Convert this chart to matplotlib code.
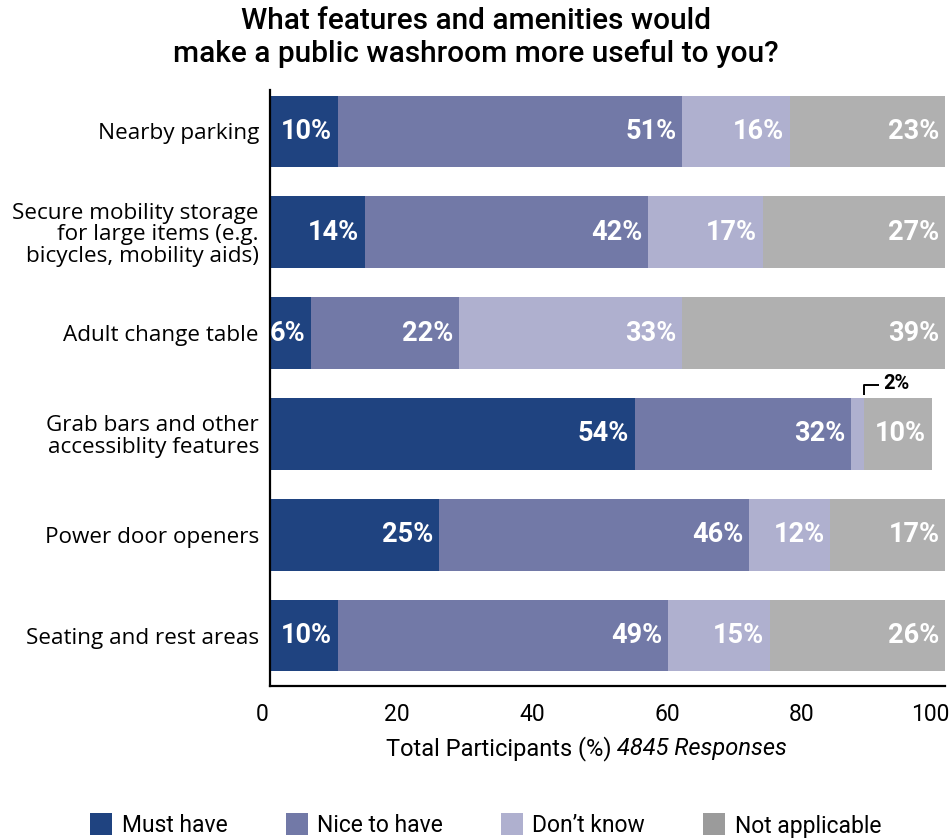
import matplotlib
matplotlib.use('Agg')
import matplotlib.pyplot as plt
import matplotlib.transforms as mtransforms
from matplotlib.lines import Line2D

categories = [
    "Nearby parking",
    "Secure mobility storage\nfor large items (e.g.\nbicycles, mobility aids)",
    "Adult change table",
    "Grab bars and other\naccessiblity features",
    "Power door openers",
    "Seating and rest areas",
]
series_names = ["Must have", "Nice to have", "Don\u2019t know", "Not applicable"]
must_have = [10, 14, 6, 54, 25, 10]
nice_to_have = [51, 42, 22, 32, 46, 49]
dont_know = [16, 17, 33, 2, 12, 15]
not_applicable = [23, 27, 39, 10, 17, 26]
x_ticks = [0, 20, 40, 60, 80, 100]

bar_colors = ["#1f4380", "#7279a7", "#afb0cf", "#b0b0b0"]
legend_colors = ["#1f4380", "#7279a7", "#afb0cf", "#9b9b9b"]

plt.rcParams['font.family'] = ['Roboto', 'DejaVu Sans']

fig = plt.figure(figsize=(9.52, 8.39), dpi=100)
ax = fig.add_axes([270 / 952, 1 - 686 / 839, 675 / 952, 596 / 839])

series = [must_have, nice_to_have, dont_know, not_applicable]
ypos = list(range(len(categories)))
left = [0] * len(categories)
for k, vals in enumerate(series):
    ax.barh(ypos, vals, left=left, height=0.71, color=bar_colors[k], linewidth=0)
    for i, v in enumerate(vals):
        end = left[i] + v
        if v >= 5:
            ax.annotate(f"{v}%", (end, i), xytext=(-4, 0), textcoords='offset points',
                        ha='right', va='center', color='white', fontsize=19.5,
                        fontweight='bold')
        else:
            # small segment: label above the bar with a bracket
            mid = left[i] + v / 2 + 1
            top = i - 0.355
            ax.plot([mid, mid, mid + 2.2], [top - 0.03, top - 0.13, top - 0.13],
                    color='black', lw=1.4, solid_capstyle='butt', clip_on=False)
            ax.text(mid + 2.8, top - 0.14, f"{v}%", ha='left', va='center',
                    fontsize=14.5, fontweight='bold', color='black')
    left = [left[i] + vals[i] for i in range(len(vals))]

ax.set_xlim(0, 100)
ax.set_ylim(5.5, -0.41)
ax.set_yticks(ypos)
ax.set_yticklabels(categories, fontsize=16.2, family=['Open Sans', 'DejaVu Sans'],
                   linespacing=1.02)
ax.set_xticks(x_ticks)
ax.tick_params(axis='both', length=0)
ax.tick_params(axis='x', labelsize=16.5, pad=12)
ax.tick_params(axis='y', pad=8)
labels = ax.get_xticklabels()
for j, lbl in enumerate(labels):
    dx = -15 if j == len(labels) - 1 else -8
    shift = mtransforms.ScaledTranslation(dx / 100, 0, fig.dpi_scale_trans)
    lbl.set_transform(lbl.get_transform() + shift)
for s in ['top', 'right']:
    ax.spines[s].set_visible(False)
ax.spines['left'].set_linewidth(1.6)
ax.spines['bottom'].set_linewidth(1.6)

# x-axis label: regular part plus italic response count
fig.text(617 / 952, 1 - 749 / 839, "Total Participants (%) ", ha='right', va='center',
         fontsize=17)
fig.text(617 / 952, 1 - 749 / 839, "4845 Responses", ha='left', va='center',
         fontsize=17, style='italic')

fig.text(0.5, 1 - 21 / 839, "What features and amenities would", ha='center',
         va='center', fontsize=21.5, fontweight='medium')
fig.text(0.5, 1 - 54 / 839, "make a public washroom more useful to you?", ha='center',
         va='center', fontsize=21.5, fontweight='medium')

handles = [Line2D([], [], marker='s', linestyle='none', markersize=16,
                  markerfacecolor=c, markeredgewidth=0) for c in legend_colors]
fig.legend(handles, series_names, loc='center', bbox_to_anchor=(0.51, 1 - 826 / 839),
           ncol=4, frameon=False, fontsize=16.5, handletextpad=0.4, columnspacing=2.5,
           handlelength=1.0)

fig.savefig('out.png', dpi=100)
